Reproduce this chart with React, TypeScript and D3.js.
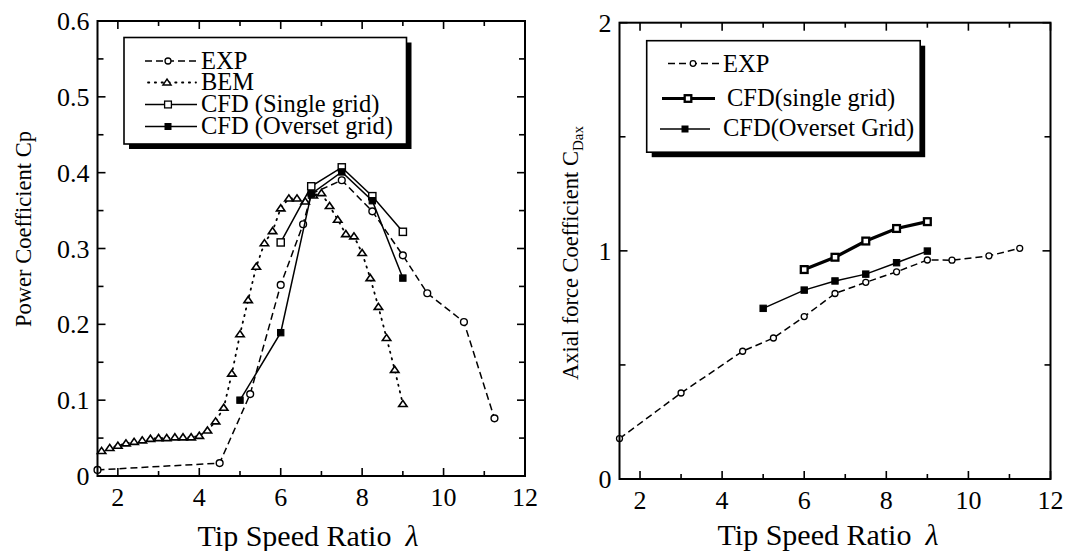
import React from 'react';
import * as d3 from 'd3';

// ---------- Data (left: power coefficient) ----------
const cpExpLambda = [1.5, 4.5, 5.25, 6.0, 6.55, 6.75, 7.5, 8.25, 9.0, 9.6, 10.5, 11.25];
const cpExpValue = [0.008, 0.017, 0.108, 0.252, 0.332, 0.372, 0.39, 0.349, 0.291, 0.241, 0.203, 0.076];

const cpBemLambda = [1.6, 1.8, 2.0, 2.2, 2.4, 2.6, 2.8, 3.0, 3.2, 3.4, 3.6, 3.8, 4.0, 4.2, 4.4, 4.6, 4.8, 5.0, 5.2, 5.4, 5.6, 5.8, 6.0, 6.2, 6.4, 6.6, 6.8, 7.0, 7.2, 7.4, 7.6, 7.8, 8.0, 8.2, 8.4, 8.6, 8.8, 9.0];
const cpBemValue = [0.033, 0.037, 0.040, 0.043, 0.045, 0.047, 0.049, 0.050, 0.050, 0.051, 0.051, 0.051, 0.053, 0.060, 0.072, 0.090, 0.135, 0.187, 0.232, 0.276, 0.307, 0.323, 0.353, 0.366, 0.366, 0.362, 0.370, 0.373, 0.356, 0.338, 0.319, 0.316, 0.294, 0.261, 0.223, 0.182, 0.140, 0.095];

const cpSingleLambda = [6.0, 6.75, 7.5, 8.25, 9.0];
const cpSingleValue = [0.308, 0.382, 0.407, 0.369, 0.322];

const cpOversetLambda = [5.0, 6.0, 6.75, 7.5, 8.25, 9.0];
const cpOversetValue = [0.1, 0.189, 0.372, 0.401, 0.363, 0.261];

// ---------- Data (right: axial force coefficient) ----------
const cdExpLambda = [1.5, 3.0, 4.5, 5.25, 6.0, 6.75, 7.5, 8.25, 9.0, 9.6, 10.5, 11.25];
const cdExpValue = [0.177, 0.377, 0.56, 0.618, 0.712, 0.813, 0.862, 0.908, 0.96, 0.959, 0.978, 1.011];

const cdSingleLambda = [6.0, 6.75, 7.5, 8.25, 9.0];
const cdSingleValue = [0.918, 0.972, 1.043, 1.098, 1.128];

const cdOversetLambda = [5.0, 6.0, 6.75, 7.5, 8.25, 9.0];
const cdOversetValue = [0.748, 0.828, 0.868, 0.898, 0.948, 0.999];

// ---------- Ticks ----------
const xMajorTicks = [2, 4, 6, 8, 10, 12];
const xMinorTicks = [3, 5, 7, 9, 11];
const cpMajorTicks = [0, 0.1, 0.2, 0.3, 0.4, 0.5, 0.6];
const cpTickLabels = ['0', '0.1', '0.2', '0.3', '0.4', '0.5', '0.6'];
const cpMinorTicks = [0.05, 0.15, 0.25, 0.35, 0.45, 0.55];
const cdMajorTicks = [0, 1, 2];
const cdTickLabels = ['0', '1', '2'];
const cdMinorTicks = [0.5, 1.5];

const FONT = "'Liberation Serif', 'Times New Roman', Times, serif";

type Pt = [number, number];
const zip = (xs: number[], ys: number[]): Pt[] => xs.map((x, i) => [x, ys[i]]);

function Marker({ kind, x, y, size, sw }: { kind: string; x: number; y: number; size: number; sw: number }) {
  if (kind === 'circle') return <circle cx={x} cy={y} r={size} fill="#fff" stroke="#000" strokeWidth={sw} />;
  if (kind === 'tri') {
    const s = size;
    const p = `${x},${y - s * 0.85} ${x - s},${y + s * 0.6} ${x + s},${y + s * 0.6}`;
    return <polygon points={p} fill="#fff" stroke="#000" strokeWidth={sw} strokeLinejoin="miter" />;
  }
  if (kind === 'sq') return <rect x={x - size} y={y - size} width={size * 2} height={size * 2} fill="#fff" stroke="#000" strokeWidth={sw} />;
  return <rect x={x - size} y={y - size} width={size * 2} height={size * 2} fill="#000" stroke="#000" strokeWidth={sw} />;
}

type Series = { pts: Pt[]; dash: string; lw: number; kind: string; size: number; msw: number };

function Frame({ x, y, yMajor, yMinor, yLabels, tickLabelBaseline }: any) {
  const [x0, x1] = x.range();
  const [y0, y1] = y.range(); // y0 bottom, y1 top
  const maj = 8, mnr = 5;
  return (
    <g>
      {xMajorTicks.map((t) => (
        <g key={'xm' + t}>
          <line x1={x(t)} x2={x(t)} y1={y0} y2={y0 - maj} stroke="#000" strokeWidth={1.6} />
          <line x1={x(t)} x2={x(t)} y1={y1} y2={y1 + maj} stroke="#000" strokeWidth={1.6} />
          <text x={x(t)} y={tickLabelBaseline} textAnchor="middle" fontSize={26} fontFamily={FONT}>{t}</text>
        </g>
      ))}
      {xMinorTicks.map((t) => (
        <g key={'xn' + t}>
          <line x1={x(t)} x2={x(t)} y1={y0} y2={y0 - mnr} stroke="#000" strokeWidth={1.6} />
          <line x1={x(t)} x2={x(t)} y1={y1} y2={y1 + mnr} stroke="#000" strokeWidth={1.6} />
        </g>
      ))}
      {yMajor.map((t: number, i: number) => (
        <g key={'ym' + t}>
          <line x1={x0} x2={x0 + maj} y1={y(t)} y2={y(t)} stroke="#000" strokeWidth={1.6} />
          <line x1={x1} x2={x1 - maj} y1={y(t)} y2={y(t)} stroke="#000" strokeWidth={1.6} />
          <text x={x0 - 8} y={y(t)} dy="0.35em" textAnchor="end" fontSize={26} fontFamily={FONT}>{yLabels[i]}</text>
        </g>
      ))}
      {yMinor.map((t: number) => (
        <g key={'yn' + t}>
          <line x1={x0} x2={x0 + 6} y1={y(t)} y2={y(t)} stroke="#000" strokeWidth={1.6} />
          <line x1={x1} x2={x1 - 6} y1={y(t)} y2={y(t)} stroke="#000" strokeWidth={1.6} />
        </g>
      ))}
      <rect x={x0} y={y1} width={x1 - x0} height={y0 - y1} fill="none" stroke="#000" strokeWidth={2} />
    </g>
  );
}

function SeriesG({ s, x, y }: { s: Series; x: any; y: any }) {
  const line = d3.line<Pt>().x((d) => x(d[0])).y((d) => y(d[1]));
  return (
    <g>
      <path d={line(s.pts) || ''} fill="none" stroke="#000" strokeWidth={s.lw} strokeDasharray={s.dash} strokeLinecap={s.dash.startsWith('1.') ? 'round' : 'butt'} />
      {s.pts.map((p, i) => (
        <Marker key={i} kind={s.kind} x={x(p[0])} y={y(p[1])} size={s.size} sw={s.msw} />
      ))}
    </g>
  );
}

function Legend({ box, rows, fontSize }: any) {
  return (
    <g>
      <rect x={box.x + 5} y={box.y + 5} width={box.w} height={box.h} fill="#000" />
      <rect x={box.x} y={box.y} width={box.w} height={box.h} fill="#fff" stroke="#000" strokeWidth={1.6} />
      {rows.map((r: any, i: number) => (
        <g key={i}>
          <line x1={r.x1} x2={r.x2} y1={r.y} y2={r.y} stroke="#000" strokeWidth={r.lw} strokeDasharray={r.dash} strokeLinecap={r.dash.startsWith('1.') ? 'round' : 'butt'} />
          <Marker kind={r.kind} x={r.mx} y={r.y} size={r.size} sw={r.msw} />
          <text x={r.tx} y={r.ty} fontSize={fontSize} fontFamily={FONT}>{r.label}</text>
        </g>
      ))}
    </g>
  );
}

export default function App() {
  // Left plot scales
  const xL = d3.scaleLinear().domain([1.5, 12]).range([97.5, 525]);
  const yL = d3.scaleLinear().domain([0, 0.6]).range([476, 21]);
  // Right plot scales
  const xR = d3.scaleLinear().domain([1.5, 12]).range([619.5, 1050.5]);
  const yR = d3.scaleLinear().domain([0, 2]).range([479, 22.7]);

  const DASH = '7,4';
  const DOT = '1.3,5.5';

  const leftSeries: Series[] = [
    { pts: zip(cpBemLambda, cpBemValue), dash: DOT, lw: 1.8, kind: 'tri', size: 4.2, msw: 1.6 },
    { pts: zip(cpExpLambda, cpExpValue), dash: DASH, lw: 1.5, kind: 'circle', size: 3.4, msw: 1.4 },
    { pts: zip(cpSingleLambda, cpSingleValue), dash: '', lw: 1.5, kind: 'sq', size: 3.6, msw: 1.4 },
    { pts: zip(cpOversetLambda, cpOversetValue), dash: '', lw: 1.5, kind: 'fsq', size: 3.2, msw: 1 },
  ];
  const rightSeries: Series[] = [
    { pts: zip(cdExpLambda, cdExpValue), dash: DASH, lw: 1.5, kind: 'circle', size: 3, msw: 1.3 },
    { pts: zip(cdSingleLambda, cdSingleValue), dash: '', lw: 3.2, kind: 'sq', size: 3.4, msw: 2.3 },
    { pts: zip(cdOversetLambda, cdOversetValue), dash: '', lw: 1.5, kind: 'fsq', size: 3.2, msw: 1 },
  ];

  const leftRows = [
    { label: 'EXP', x1: 145, x2: 196, mx: 168, y: 61, ty: 68.5, tx: 201, dash: DASH, lw: 1.5, kind: 'circle', size: 3, msw: 1.3 },
    { label: 'BEM', x1: 148, x2: 196, mx: 167, y: 82.5, ty: 90, tx: 201, dash: DOT, lw: 1.8, kind: 'tri', size: 4, msw: 1.5 },
    { label: 'CFD (Single grid)', x1: 145, x2: 197, mx: 168, y: 104.5, ty: 112, tx: 201, dash: '', lw: 1.5, kind: 'sq', size: 3.4, msw: 1.3 },
    { label: 'CFD (Overset grid)', x1: 145, x2: 197, mx: 168, y: 126.5, ty: 134, tx: 201, dash: '', lw: 1.5, kind: 'fsq', size: 3, msw: 1 },
  ];
  const rightRows = [
    { label: 'EXP', x1: 668, x2: 719, mx: 693, y: 63.5, ty: 71.5, tx: 723, dash: DASH, lw: 1.5, kind: 'circle', size: 2.8, msw: 1.3 },
    { label: 'CFD(single grid)', x1: 662, x2: 715, mx: 688, y: 98.5, ty: 106, tx: 727, dash: '', lw: 3.2, kind: 'sq', size: 3.3, msw: 2.3 },
    { label: 'CFD(Overset Grid)', x1: 660, x2: 710, mx: 685, y: 129, ty: 136, tx: 723, dash: '', lw: 1.5, kind: 'fsq', size: 3, msw: 1 },
  ];

  return (
    <svg width={1066} height={551} style={{ position: 'absolute', left: 0, top: 0, background: '#fff' }}>
      <rect x={0} y={0} width={1066} height={551} fill="#fff" />
      {/* Left chart */}
      {leftSeries.map((s, i) => <SeriesG key={i} s={s} x={xL} y={yL} />)}
      <Frame x={xL} y={yL} yMajor={cpMajorTicks} yMinor={cpMinorTicks} yLabels={cpTickLabels} tickLabelBaseline={506} />
      <Legend box={{ x: 124, y: 37.5, w: 282.5, h: 106.5 }} rows={leftRows} fontSize={24.5} />
      <text x={308} y={546} textAnchor="middle" fontSize={30} fontFamily={FONT}>
        Tip Speed Ratio<tspan dx={14} fontStyle="italic">λ</tspan>
      </text>
      <text transform="translate(31,229) rotate(-90)" textAnchor="middle" fontSize={22.5} fontFamily={FONT}>
        Power Coefficient Cp
      </text>

      {/* Right chart */}
      {rightSeries.map((s, i) => <SeriesG key={i} s={s} x={xR} y={yR} />)}
      <Frame x={xR} y={yR} yMajor={cdMajorTicks} yMinor={cdMinorTicks} yLabels={cdTickLabels} tickLabelBaseline={509} />
      <Legend box={{ x: 646.7, y: 40.7, w: 273.5, h: 111.5 }} rows={rightRows} fontSize={24.5} />
      <text x={828} y={545} textAnchor="middle" fontSize={30} fontFamily={FONT}>
        Tip Speed Ratio<tspan dx={14} fontStyle="italic">λ</tspan>
      </text>
      <text transform="translate(578,253) rotate(-90)" textAnchor="middle" fontSize={22.5} fontFamily={FONT}>
        Axial force Coefficient C<tspan fontSize={15} dy={5}>Dax</tspan>
      </text>
    </svg>
  );
}
